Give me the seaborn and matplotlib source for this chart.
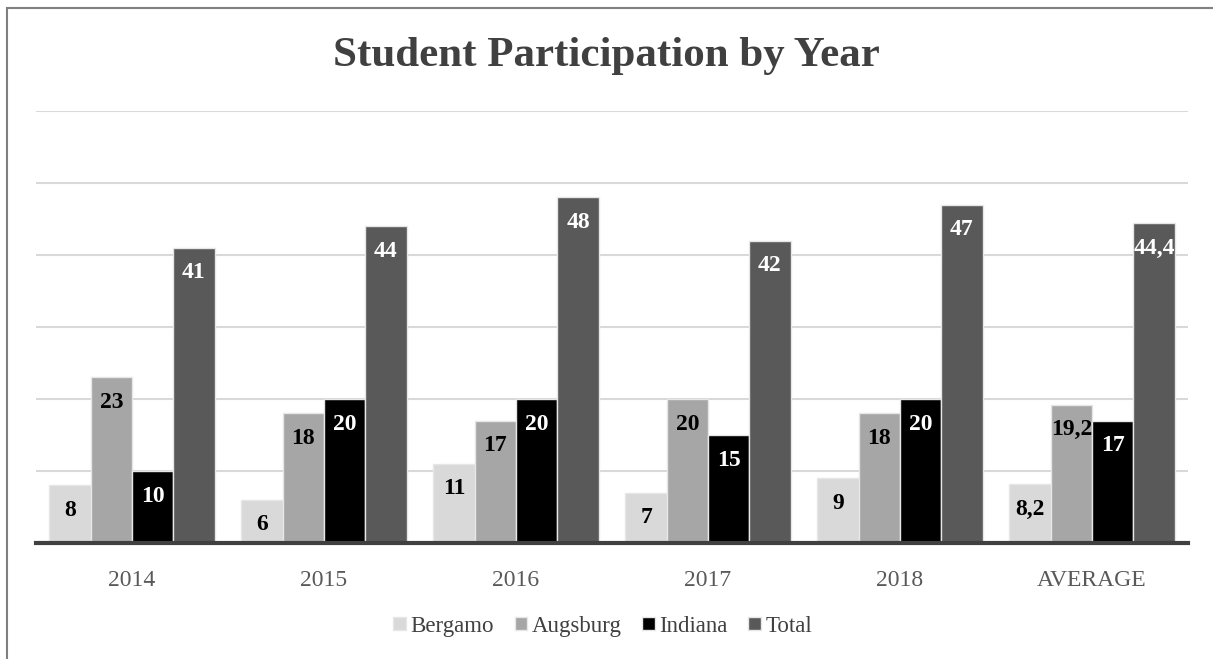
import pandas as pd
import seaborn as sns
import matplotlib.pyplot as plt
from matplotlib.patches import Rectangle

years = ["2014", "2015", "2016", "2017", "2018", "AVERAGE"]
bergamo = [8, 6, 11, 7, 9, 8.2]
augsburg = [23, 18, 17, 20, 18, 19.2]
indiana = [10, 20, 20, 15, 20, 17]
total = [41, 44, 48, 42, 47, 44.4]

campuses = ["Bergamo", "Augsburg", "Indiana", "Total"]
colors = ["#d9d9d9", "#a6a6a6", "#000000", "#595959"]
label_colors = ["black", "black", "white", "white"]

df = pd.DataFrame({"Year": years * 4,
                   "Campus": [c for c in campuses for _ in years],
                   "Students": bergamo + augsburg + indiana + total})

sns.set_style("white")
plt.rcParams["font.family"] = ["Liberation Serif", "DejaVu Serif"]

fig = plt.figure(figsize=(12.13, 6.59), dpi=100)
ax = fig.add_axes([0.0297, 0.176, 0.9497, 0.6555])

sns.barplot(data=df, x="Year", y="Students", hue="Campus", order=years,
            hue_order=campuses, palette=colors, width=0.86, errorbar=None,
            edgecolor="#e6e6e6", linewidth=1, ax=ax, legend=True)

for cont, lc in zip(ax.containers, label_colors):
    for bar in cont:
        h = bar.get_height()
        txt = f"{h:g}".replace(".", ",")
        ax.annotate(txt, (bar.get_x() + bar.get_width() / 2, h),
                    xytext=(0, -18), textcoords="offset points",
                    ha="center", va="center", fontsize=17,
                    fontweight="bold", color=lc)

ax.set_ylim(0, 60)
ax.set_xlim(-0.5, 5.5)
ax.set_yticks(range(0, 61, 10))
ax.yaxis.grid(True, color="#d9d9d9", linewidth=1.5)
ax.set_axisbelow(True)
ax.tick_params(axis="y", left=False, labelleft=False)
ax.tick_params(axis="x", bottom=False, labelsize=17, colors="#595959", pad=16)
ax.set_xlabel("")
ax.set_ylabel("")
for s in ["top", "right", "left"]:
    ax.spines[s].set_visible(False)
ax.spines["bottom"].set_color("#404040")
ax.spines["bottom"].set_linewidth(3)

fig.text(0.5, 0.915, "Student Participation by Year", ha="center", va="center",
         fontsize=31, fontweight="bold", color="#404040")

handles, labels = ax.get_legend_handles_labels()
ax.legend(handles, labels, loc="center", bbox_to_anchor=(0.497, 0.05),
          bbox_transform=fig.transFigure, ncol=4, frameon=False,
          fontsize=16.5, handlelength=0.55, handleheight=0.55, handletextpad=0.2,
          columnspacing=0.9, labelcolor="#404040")

fig.patches.append(Rectangle((0.006, -0.1), 1.2, 1.088, transform=fig.transFigure,
                             fill=False, edgecolor="#808080", linewidth=1.5))

fig.savefig("out.png", dpi=100)
